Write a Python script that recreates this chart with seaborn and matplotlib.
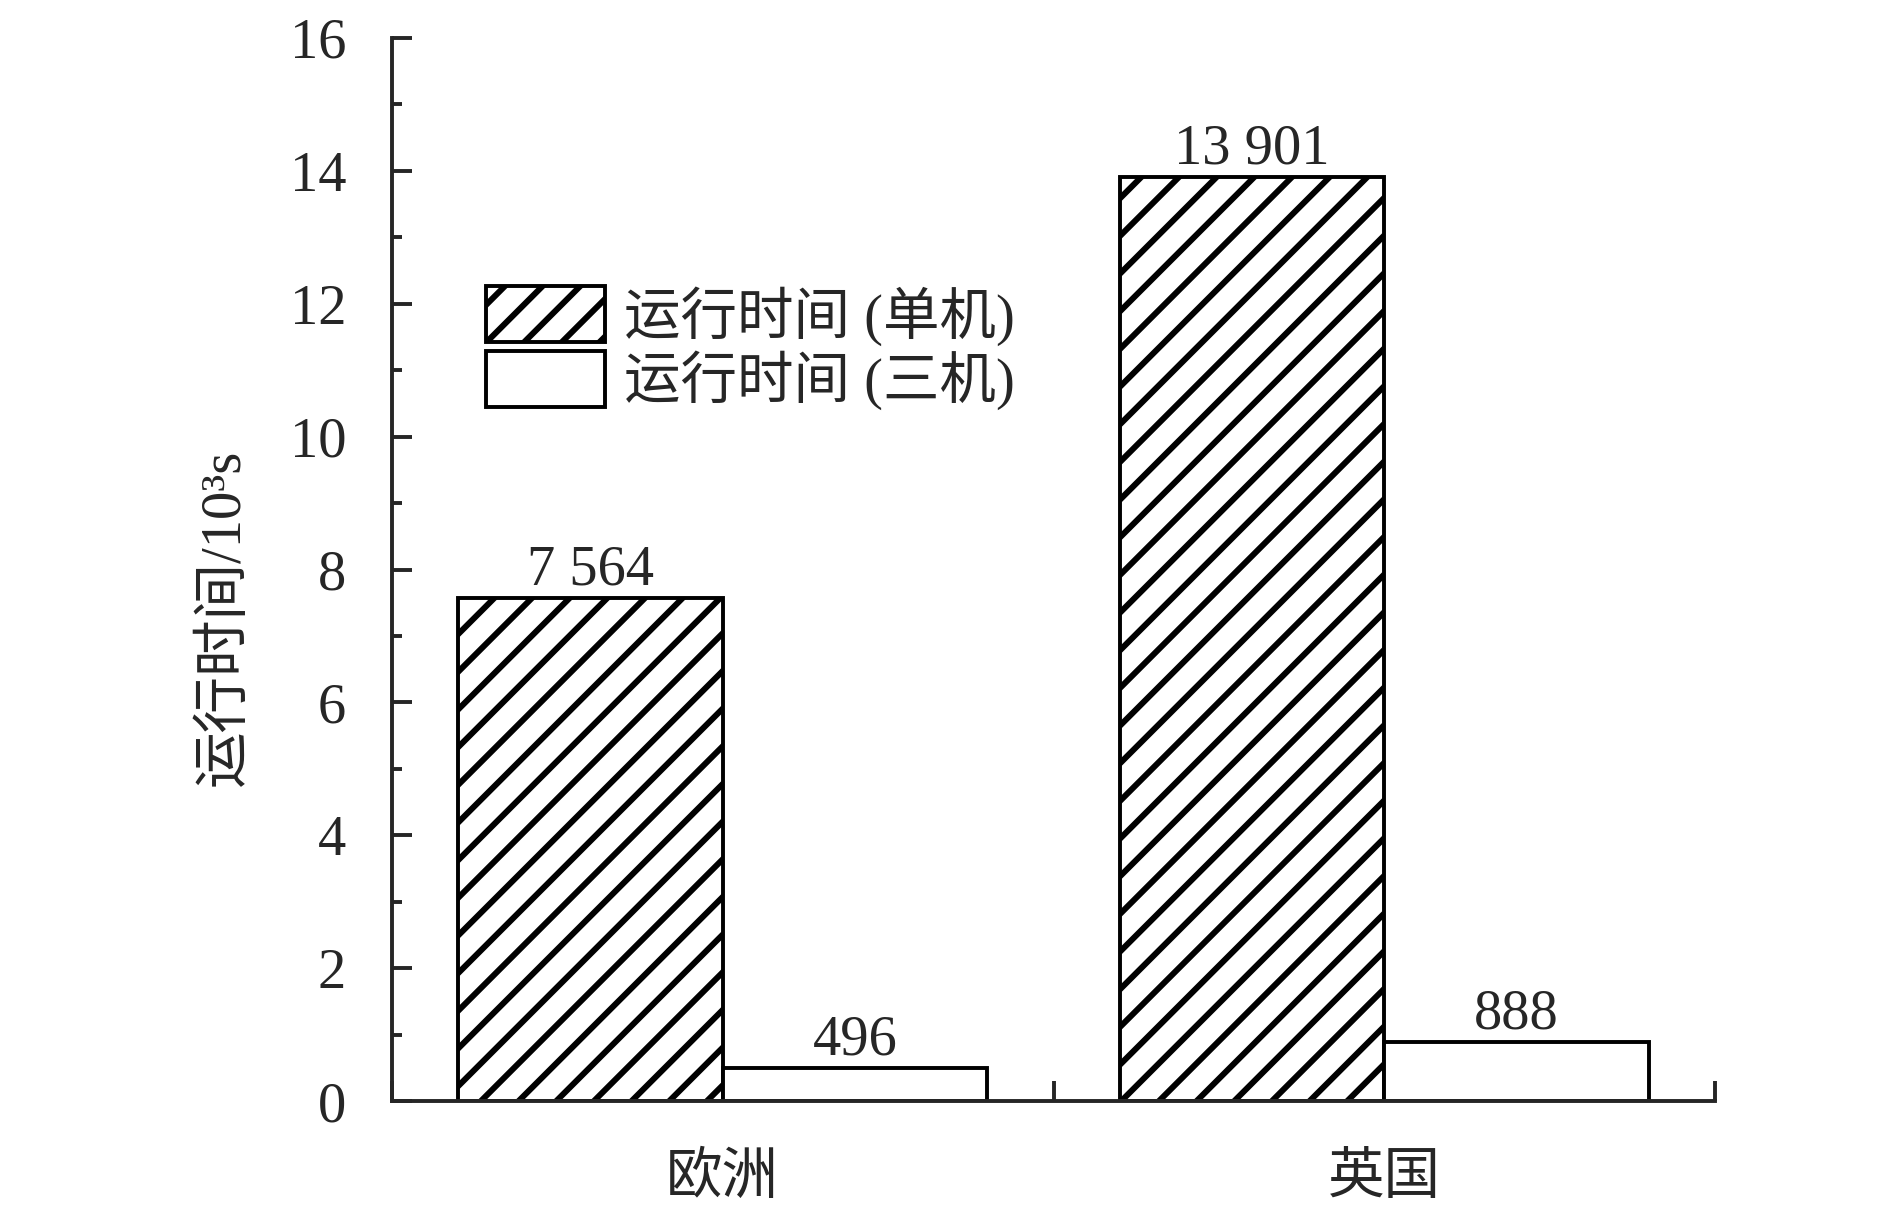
import pandas as pd
import seaborn as sns
import matplotlib.pyplot as plt
from matplotlib.ticker import MultipleLocator, FixedLocator

# data
regions = ["欧洲", "英国"]
modes = ["运行时间 (单机)", "运行时间 (三机)"]
single_time = [7.564, 13.901]   # 10^3 s
triple_time = [0.496, 0.888]
single_labels = ["7 564", "13 901"]
triple_labels = ["496", "888"]

df = pd.DataFrame({
    "region": regions * 2,
    "mode": [modes[0]] * len(regions) + [modes[1]] * len(regions),
    "time": single_time + triple_time,
})

DPI = 113


def pt(px):
    # pixel size in the output -> points
    return px * 72 / DPI


FS = pt(56.5)
LW = pt(3.9)

sns.set_style("ticks")
plt.rcParams["font.family"] = ["Liberation Serif", "Noto Sans CJK SC"]
plt.rcParams["hatch.linewidth"] = pt(6)
plt.rcParams["hatch.color"] = "black"

fig = plt.figure(figsize=(1890 / DPI, 1205 / DPI), dpi=DPI)
ax = fig.add_axes([392 / 1890, 1 - 1101 / 1205, (1715 - 392) / 1890, (1101 - 38) / 1205])

sns.barplot(data=df, x="region", y="time", hue="mode",
            order=regions, hue_order=modes,
            palette={modes[0]: "white", modes[1]: "white"},
            edgecolor="black", linewidth=LW, width=0.8,
            saturation=1, errorbar=None, ax=ax, legend=False)

for patch in ax.containers[0]:
    patch.set_hatch("/")

ax.bar_label(ax.containers[0], labels=single_labels, padding=pt(2), fontsize=FS)
ax.bar_label(ax.containers[1], labels=triple_labels, padding=pt(2), fontsize=FS)

ax.set_xlim(-0.5, 1.5)
ax.set_ylim(0, 16)
ax.yaxis.set_major_locator(MultipleLocator(2))
ax.yaxis.set_minor_locator(MultipleLocator(1))
ax.xaxis.set_minor_locator(FixedLocator([-0.5, 0.5, 1.5]))

ax.tick_params(axis="y", which="major", direction="in", length=pt(20), width=LW,
               pad=pt(46), labelsize=FS)
ax.tick_params(axis="y", which="minor", direction="in", length=pt(10), width=LW)
ax.tick_params(axis="x", which="major", length=0, pad=pt(52), labelsize=FS)
ax.tick_params(axis="x", which="minor", direction="in", length=pt(20), width=LW)

for side in ["left", "bottom"]:
    ax.spines[side].set_linewidth(LW)
ax.spines["top"].set_visible(False)
ax.spines["right"].set_visible(False)

ax.set_xlabel("")
ax.set_ylabel("运行时间/10³s", fontsize=FS)
ax.yaxis.set_label_coords(-0.107, 0.455)

ax.legend(handles=list(ax.containers), labels=modes,
          loc="upper left", bbox_to_anchor=(486 / 1890, 1 - 286 / 1205),
          bbox_transform=fig.transFigure, frameon=False, fontsize=FS,
          handlelength=2.1, handleheight=1.15, handletextpad=0.34,
          labelspacing=0.08, borderpad=0, borderaxespad=0)

plt.savefig("out.png", dpi=DPI)
plt.close()
